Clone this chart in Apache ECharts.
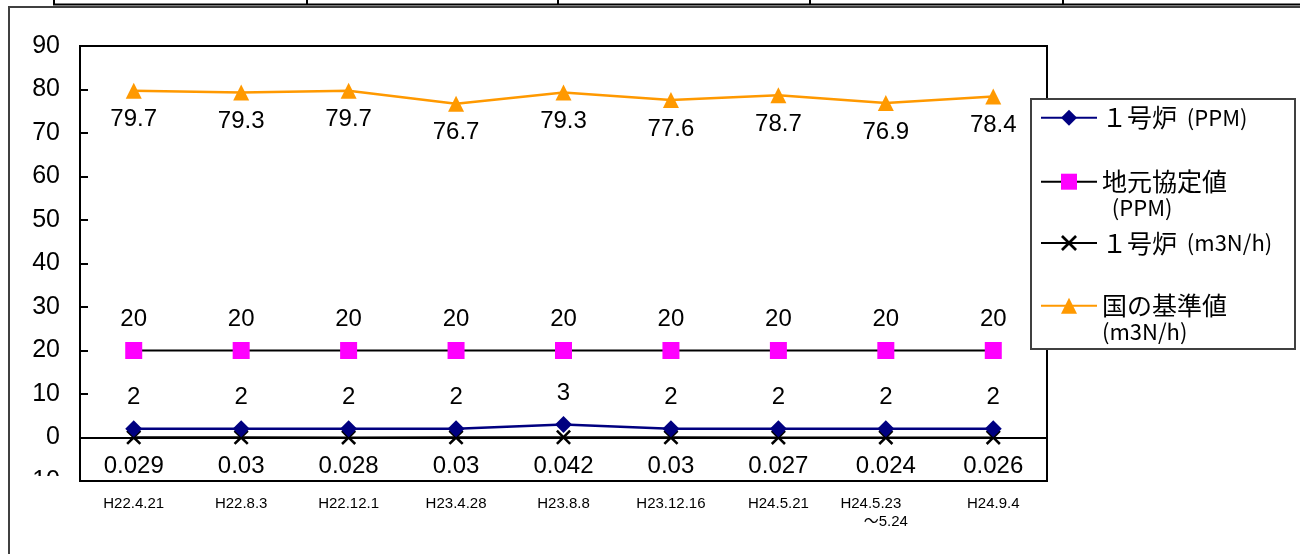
<!DOCTYPE html>
<html>
<head>
<meta charset="utf-8">
<script src="https://cdn.jsdelivr.net/npm/echarts@6/dist/echarts.min.js"></script>
<style>
html,body{margin:0;padding:0;background:#fff;}
#chart{width:1300px;height:554px;}
</style>
</head>
<body>
<div id="chart"></div>
<script>
const categories = ['H22.4.21','H22.8.3','H22.12.1','H23.4.28','H23.8.8','H23.12.16','H24.5.21','H24.5.23　　\n～5.24','H24.9.4'];
const unit1Ppm = [2,2,2,2,3,2,2,2,2];
const localLimitPpm = [20,20,20,20,20,20,20,20,20];
const unit1Flow = [0.029,0.03,0.028,0.03,0.042,0.03,0.027,0.024,0.026];
const nationalLimitFlow = [79.7,79.3,79.7,76.7,79.3,77.6,78.7,76.9,78.4];
const yTicks = {min:-10, max:90, interval:10};

const NAMES = ['１号炉 (PPM)', '地元協定値 (PPM)', '１号炉 (m3N/h)', '国の基準値 (m3N/h)'];
const LEGEND_TEXT = {
  [NAMES[0]]: '{c|１号炉}{l|  (PPM)}',
  [NAMES[1]]: '\n{c|地元協定値}\n{l|  (PPM)}',
  [NAMES[2]]: '{c|１号炉}{l|  (m3N/h)}',
  [NAMES[3]]: '\n{c|国の基準値}\n{l|(m3N/h)}'
};
const FONT = '"Liberation Sans", "Noto Sans CJK JP", sans-serif';
const CJK = '"Noto Sans CJK JP", sans-serif';
const CROSS = 'path://M0,1.2L1.2,0L5,3.8L8.8,0L10,1.2L6.2,5L10,8.8L8.8,10L5,6.2L1.2,10L0,8.8L3.8,5Z';

function lbl(offsetY){
  return {show:true, position:'inside', offset:[0,offsetY], color:'#000', fontSize:24, fontFamily:FONT,
          formatter: p => String(p.value)};
}
function legendFor(name, top){
  return {
    show:true, orient:'vertical', left:1040, top:top, padding:0, z:60,
    itemWidth:56, itemHeight:20, selectedMode:false,
    data:[name],
    formatter: n => LEGEND_TEXT[n],
    textStyle:{fontSize:22, lineHeight:26, fontFamily:CJK, color:'#000',
      rich:{
        c:{fontSize:25, lineHeight:26, fontFamily:CJK, color:'#000'},
        l:{fontSize:22, lineHeight:26, fontFamily:CJK, color:'#000'}
      }}
  };
}

const chart = echarts.init(document.getElementById('chart'));
chart.setOption({
  backgroundColor:'#fff',
  animation:false,
  grid:{left:80, right:253, top:46, bottom:73, show:true, borderColor:'#000', borderWidth:2},
  xAxis:{type:'category', data:categories, boundaryGap:true,
    axisLine:{show:true, lineStyle:{color:'#000', width:2}},
    axisTick:{show:false},
    axisLabel:{fontSize:15, fontFamily:FONT, color:'#000', margin:14, lineHeight:18, interval:0}},
  yAxis:{type:'value', min:yTicks.min, max:yTicks.max, interval:yTicks.interval,
    axisLine:{show:true, lineStyle:{color:'#000', width:2}},
    axisTick:{show:true, inside:true, length:8, lineStyle:{color:'#000', width:2}},
    splitLine:{show:false},
    axisLabel:{fontSize:25, fontFamily:FONT, color:'#000', margin:20}},
  legend:[
    legendFor(NAMES[0], 104.7),
    legendFor(NAMES[1], 142.7),
    legendFor(NAMES[2], 230),
    legendFor(NAMES[3], 266.7)
  ],
  graphic:[
    {type:'rect', z:50, shape:{x:1031, y:99, width:264, height:250}, style:{fill:'#fff', stroke:'#404040', lineWidth:2}},
    {type:'rect', z:50, shape:{x:20, y:476, width:55, height:18}, style:{fill:'#fff'}},
    {type:'line', z:50, shape:{x1:53, y1:4.5, x2:1300, y2:4.5}, style:{stroke:'#000', lineWidth:2}},
    {type:'line', z:50, shape:{x1:10, y1:7, x2:1300, y2:7}, style:{stroke:'#404040', lineWidth:2}},
    {type:'line', z:50, shape:{x1:9, y1:6, x2:9, y2:554}, style:{stroke:'#404040', lineWidth:2}},
    {type:'line', z:50, shape:{x1:54, y1:0, x2:54, y2:5}, style:{stroke:'#000', lineWidth:2}},
    {type:'line', z:50, shape:{x1:307, y1:0, x2:307, y2:5}, style:{stroke:'#000', lineWidth:2}},
    {type:'line', z:50, shape:{x1:558, y1:0, x2:558, y2:5}, style:{stroke:'#000', lineWidth:2}},
    {type:'line', z:50, shape:{x1:810, y1:0, x2:810, y2:5}, style:{stroke:'#000', lineWidth:2}},
    {type:'line', z:50, shape:{x1:1063, y1:0, x2:1063, y2:5}, style:{stroke:'#000', lineWidth:2}}
  ],
  series:[
    {name:NAMES[0], type:'line', data:unit1Ppm, symbol:'diamond', symbolSize:17,
     lineStyle:{color:'#000080', width:2.5}, itemStyle:{color:'#000080'},
     label:lbl(-31), z:4},
    {name:NAMES[1], type:'line', data:localLimitPpm, symbol:'rect', symbolSize:17,
     lineStyle:{color:'#000', width:2}, itemStyle:{color:'#FF00FF'},
     label:lbl(-31), z:3},
    {name:NAMES[2], type:'line', data:unit1Flow, symbol:CROSS, symbolSize:15,
     lineStyle:{color:'#000', width:2}, itemStyle:{color:'#000'},
     label:lbl(29), z:3},
    {name:NAMES[3], type:'line', data:nationalLimitFlow, symbol:'triangle', symbolSize:16,
     lineStyle:{color:'#FF9900', width:2.5}, itemStyle:{color:'#FF9900'},
     label:lbl(29), z:3}
  ]
});
</script>
</body>
</html>
